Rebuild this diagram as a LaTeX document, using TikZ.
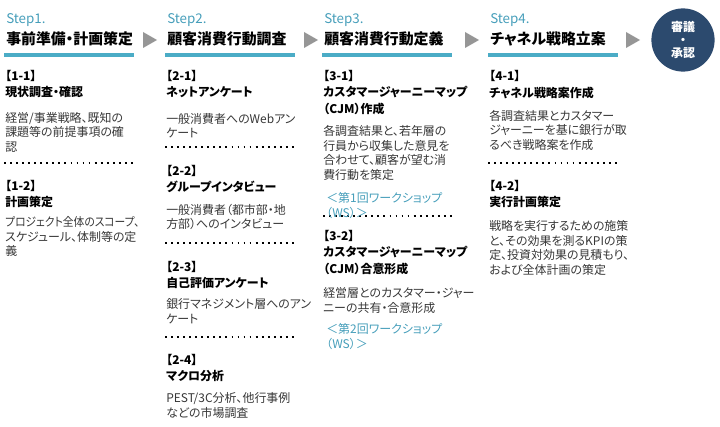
\documentclass[tikz,border=0pt]{standalone}
\usepackage{fontspec}
\setmainfont{Noto Sans CJK JP}[RawFeature=+palt]
\usetikzlibrary{calc}

\definecolor{stepteal}{RGB}{70,158,186}
\definecolor{lineteal}{RGB}{75,172,198}
\definecolor{apprnavy}{RGB}{44,74,110}
\definecolor{arrgray}{RGB}{150,150,150}
\definecolor{txtgray}{RGB}{55,55,55}

\begin{document}
\begin{tikzpicture}[x=0.025cm,y=-0.025cm,
    steplbl/.style={anchor=base west,inner sep=0,text=stepteal,font=\fontsize{9.5}{11}\selectfont},
    ttl/.style={anchor=base west,inner sep=0,font=\fontsize{10.6}{12}\selectfont\bfseries},
    head/.style={anchor=north west,inner sep=0,align=left,font=\fontsize{8.5}{12}\selectfont\bfseries},
    body/.style={anchor=north west,inner sep=0,align=left,text=txtgray,font=\fontsize{8.5}{10.25}\selectfont},
    ws/.style={body,text=stepteal},
    dotline/.style={line width=1.3pt,dash pattern=on 1.3pt off 3pt},
    uline/.style={lineteal,line width=2.2pt},
    tri/.style={fill=arrgray},
    apprv/.style={circle,fill=apprnavy,minimum size=1.58cm,inner sep=0,text=white,align=center,
        font=\fontsize{8.5}{9.3}\selectfont\bfseries}]
    \useasboundingbox (0,0) rectangle (720,426);
        \foreach \n/\x/\t in {1/4/事前準備・計画策定,2/165/顧客消費行動調査,3/322/顧客消費行動定義,4/488/チャネル戦略立案}{
            \node[steplbl] (step\n) at (\x+2,24) {Step\n.};
            \node[ttl] (ttl\n) at (\x+2,45) {\t};
            \draw[uline] (\x,55) -- ++(130,0);
        };
        \foreach \x in {143,304,465,626}
            \fill[tri] (\x,32) -- (\x,48) -- (\x+14,40) -- cycle;
        \node[apprv] (appr) at (683,40) {審議\\・\\承認};
        % dotted separators
        \foreach \x/\y in {4/163,165/147,165/243,165/337,323/216,488/163}
            \draw[dotline] (\x,\y) -- ++(130,0);
        % headings
        \foreach \id/\x/\y/\t in {11/5/69.5/{【1-1】\\現状調査・確認},12/5/179.5/{【1-2】\\計画策定},
            21/166/69.5/{【2-1】\\ネットアンケート},22/166/164.5/{【2-2】\\グループインタビュー},
            23/166/260.5/{【2-3】\\自己評価アンケート},24/166/353.5/{【2-4】\\マクロ分析},
            31/323/69.5/{【3-1】\\カスタマージャーニーマップ\\（CJM）作成},
            32/323/229.5/{【3-2】\\カスタマージャーニーマップ\\（CJM）合意形成},
            41/489/70.5/{【4-1】\\チャネル戦略案作成},42/489/179.5/{【4-2】\\実行計画策定}}
            \node[head] (h\id) at (\x,\y) {\t};
        % descriptions
        \foreach \id/\x/\y/\t in {11/5/112/{経営/事業戦略、既知の\\課題等の前提事項の確\\認},
            12/5/216.5/{\scalebox{0.9}[1]{プロジェクト全体のスコープ、}\\スケジュール、体制等の定\\義},
            21/166/113/{一般消費者へのWebアン\\ケート},
            22/166/203.5/{一般消費者（都市部・地\\方部）へのインタビュー},
            23/166/298.5/{銀行マネジメント層へのアン\\ケート},
            24/166/392.5/{PEST/3C分析、他行事例\\などの市場調査},
            31/323/125.5/{各調査結果と、若年層の\\行員から収集した意見を\\合わせて、顧客が望む消\\費行動を策定},
            32/323/287.5/{経営層とのカスタマー・ジャー\\ニーの共有・合意形成},
            41/489/110/{各調査結果とカスタマー\\ジャーニーを基に銀行が取\\るべき戦略案を作成},
            42/489/220.5/{戦略を実行するための施策\\と、その効果を測るKPIの策\\定、投資対効果の見積もり、\\および全体計画の策定}}
            \node[body] (b\id) at (\x,\y) {\t};
        \node[ws] (ws1) at (326,192.5) {＜第1回ワークショップ\\（WS）＞};
        \node[ws] (ws2) at (326,323.5) {＜第2回ワークショップ\\（WS）＞};
    \end{tikzpicture}
\end{document}
